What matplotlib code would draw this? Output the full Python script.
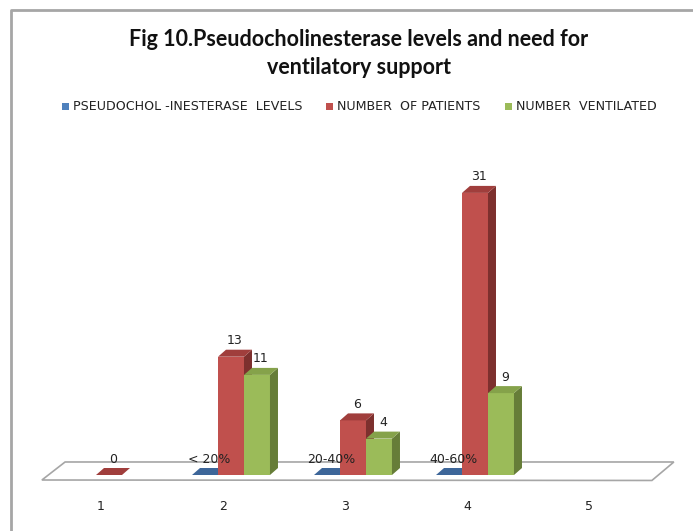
import numpy as np
import matplotlib.pyplot as plt
from matplotlib.patches import Polygon, Rectangle

# chart data
categories = [1, 2, 3, 4, 5]
series_names = ["PSEUDOCHOL -INESTERASE  LEVELS", "NUMBER  OF PATIENTS", "NUMBER  VENTILATED"]
levels = [None, 0, 0, 0, None]          # blue bars (height 0, labelled with a range)
level_labels = ["", "< 20%", "20-40%", "40-60%", ""]
patients = [0, 13, 6, 31, None]
ventilated = [None, 11, 4, 9, None]

front = ["#4F81BD", "#C0504D", "#9BBB59"]
top = ["#3D6699", "#A03E3C", "#85A24A"]
side = ["#2F5078", "#7D302E", "#667D38"]

fig = plt.figure(figsize=(6.93, 5.31), dpi=100)
ax = fig.add_axes([0, 0, 1, 1])
W, H = 693, 531

# pixel <-> data mapping: x = category, y = value
px_per_cat, px_per_val = 122.0, 9.1
x0_px, y0_px = 109.0, 475.0
ax.set_xlim(1 - x0_px / px_per_cat, 1 + (W - x0_px) / px_per_cat)
ax.set_ylim(-(H - y0_px) / px_per_val, y0_px / px_per_val)
ax.axis("off")

bw = 0.213
ddx, ddy = 8 / px_per_cat, 7 / px_per_val   # 3d depth offset

# floor
fl = [(0.45, -0.55), (5.45, -0.6), (5.63, 1.43), (0.64, 1.43)]
ax.add_patch(Polygon(fl, closed=True, facecolor="white", edgecolor="#A6A6A6", lw=1.2, zorder=1))


def bar3d(xc, v, k):
    x1, x2 = xc - bw / 2, xc + bw / 2
    if v > 0:
        ax.add_patch(Rectangle((x1, 0), bw, v, facecolor=front[k], edgecolor="none", zorder=3))
        ax.add_patch(Polygon([(x2, 0), (x2 + ddx, ddy), (x2 + ddx, v + ddy), (x2, v)],
                             facecolor=side[k], edgecolor="none", zorder=3))
    ax.add_patch(Polygon([(x1, v), (x2, v), (x2 + ddx, v + ddy), (x1 + ddx, v + ddy)],
                         facecolor=top[k], edgecolor="none", zorder=3))


for i, c in enumerate(categories):
    for k, vals in enumerate([levels, patients, ventilated]):
        v = vals[i]
        if v is None:
            continue
        xc = c + (k - 1) * bw
        bar3d(xc, v, k)
        lab = level_labels[i] if k == 0 else str(v)
        ax.text(xc + ddx / 2, v + 1.75, lab, ha="center", va="center",
                fontsize=9, family="DejaVu Sans", color="#222222", zorder=4)
    ax.text(c - 0.066, -3.5, str(c), ha="center", va="center",
            fontsize=9, family="DejaVu Sans", color="#222222")

# title
fig.text(0.518, 1 - 40 / H, "Fig 10.Pseudocholinesterase levels and need for",
         ha="center", va="center", fontsize=15.5, fontweight="bold", family="Lato", color="#111111")
fig.text(0.518, 1 - 67 / H, "ventilatory support",
         ha="center", va="center", fontsize=15.5, fontweight="bold", family="Lato", color="#111111")

# legend
leg_x = [62, 326, 505]
for k, name in enumerate(series_names):
    fig.patches.append(Rectangle(((leg_x[k]) / W, 1 - 110 / H), 7 / W, 7 / H,
                                 transform=fig.transFigure, facecolor=front[k], edgecolor="none"))
    fig.text((leg_x[k] + 11) / W, 1 - 106 / H, name, ha="left", va="center",
             fontsize=9.1, family="DejaVu Sans", color="#222222")

# outer border (left and top)
fig.add_artist(plt.Line2D([11 / W, 11 / W, 1], [0, 1 - 10 / H, 1 - 10 / H],
                          transform=fig.transFigure, color="#A6A6A6", lw=2))

fig.savefig("out.png", dpi=100)
